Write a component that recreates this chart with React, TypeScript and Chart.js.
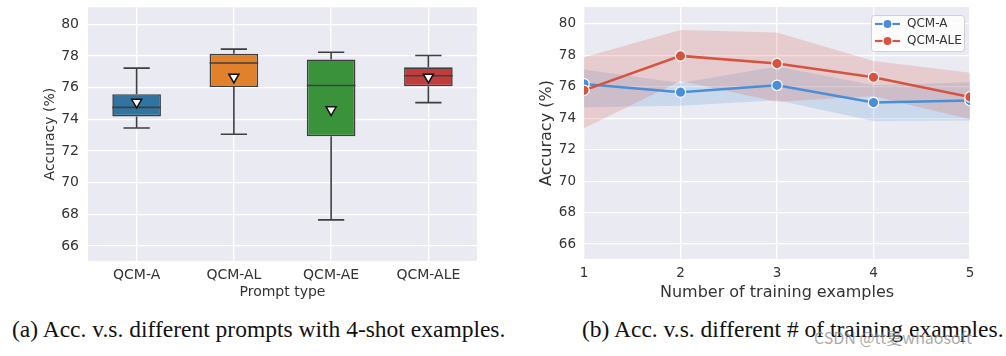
import React, { useEffect, useRef } from 'react';
import { Chart, registerables } from 'chart.js';
Chart.register(...registerables);

// ---- Left chart: box plots by prompt type ----
const promptTypes = ['QCM-A', 'QCM-AL', 'QCM-AE', 'QCM-ALE'];
const whiskerLow = [73.45, 73.05, 67.65, 75.05];
const q1 = [74.18, 76.03, 72.92, 76.08];
const median = [74.75, 77.55, 76.13, 76.75];
const q3 = [75.58, 78.13, 77.78, 77.28];
const whiskerHigh = [77.23, 78.43, 78.23, 78.03];
const means = [75.08, 76.66, 74.6, 76.66];
const boxColors = ['#3274a1', '#e1812c', '#3a923a', '#c03d3e'];

const yTicks = [66, 68, 70, 72, 74, 76, 78, 80];

// ---- Right chart: accuracy vs number of training examples ----
const trainingExamples = [1, 2, 3, 4, 5];
const qcmA = [76.19, 75.66, 76.1, 75.0, 75.13];
const qcmAUpper = [77.1, 76.25, 77.3, 76.1, 76.3];
const qcmALower = [74.7, 74.8, 75.15, 73.83, 73.86];
const qcmALE = [75.78, 77.97, 77.48, 76.61, 75.36];
const qcmALEUpper = [77.88, 79.62, 79.45, 77.65, 76.9];
const qcmALELower = [73.37, 76.38, 75.06, 75.4, 73.94];

const blue = '#4a8fd6';
const red = '#d5533f';
const blueBand = 'rgba(74,143,214,0.2)';
const redBand = 'rgba(213,83,63,0.2)';

const FONT = 'DejaVu Sans';
const TEXT = '#333333';

const noPad = (s: any) => {
  s.paddingTop = 0;
  s.paddingBottom = 0;
  s.paddingLeft = 0;
  s.paddingRight = 0;
};

const bgPlugin = {
  id: 'bg',
  beforeDraw(chart: any) {
    const { ctx, chartArea: a } = chart;
    ctx.save();
    ctx.fillStyle = '#eaeaf2';
    ctx.fillRect(a.left, a.top, a.right - a.left, a.bottom - a.top);
    ctx.restore();
  },
};

const boxPlugin = {
  id: 'boxparts',
  afterDatasetDraw(chart: any, args: any) {
    if (args.index !== 0) return;
    const { ctx } = chart;
    const xs = chart.scales.x;
    const ys = chart.scales.y;
    const meta = chart.getDatasetMeta(0);
    ctx.save();
    ctx.strokeStyle = '#3f3f3f';
    ctx.lineWidth = 1.6;
    promptTypes.forEach((_, i) => {
      const x = xs.getPixelForValue(i);
      const w = meta.data[i].width;
      const cap = w * 0.27;
      const yHi = ys.getPixelForValue(whiskerHigh[i]);
      const yLo = ys.getPixelForValue(whiskerLow[i]);
      const yQ1 = ys.getPixelForValue(q1[i]);
      const yQ3 = ys.getPixelForValue(q3[i]);
      const yMed = ys.getPixelForValue(median[i]);
      ctx.beginPath();
      ctx.moveTo(x, yQ3);
      ctx.lineTo(x, yHi);
      ctx.moveTo(x - cap, yHi);
      ctx.lineTo(x + cap, yHi);
      ctx.moveTo(x, yQ1);
      ctx.lineTo(x, yLo);
      ctx.moveTo(x - cap, yLo);
      ctx.lineTo(x + cap, yLo);
      ctx.moveTo(x - w / 2, yMed);
      ctx.lineTo(x + w / 2, yMed);
      ctx.stroke();
    });
    ctx.restore();
  },
};

const legendPlugin = {
  id: 'customLegend',
  afterDraw(chart: any) {
    const { ctx, chartArea: a } = chart;
    const x0 = a.right - 99;
    const y0 = a.top + 8;
    const w = 93;
    const h = 36;
    ctx.save();
    ctx.fillStyle = 'rgba(255,255,255,0.85)';
    ctx.strokeStyle = '#d0d0d0';
    ctx.lineWidth = 1;
    ctx.beginPath();
    (ctx as any).roundRect(x0 + 0.5, y0 + 0.5, w, h, 3);
    ctx.fill();
    ctx.stroke();
    const items = [
      { label: 'QCM-A', color: blue },
      { label: 'QCM-ALE', color: red },
    ];
    items.forEach((it, k) => {
      const cy = y0 + 9 + k * 17;
      ctx.strokeStyle = it.color;
      ctx.lineWidth = 2.2;
      ctx.beginPath();
      ctx.moveTo(x0 + 4, cy);
      ctx.lineTo(x0 + 29, cy);
      ctx.stroke();
      ctx.fillStyle = it.color;
      ctx.strokeStyle = '#fff';
      ctx.lineWidth = 1.2;
      ctx.beginPath();
      ctx.arc(x0 + 16.5, cy, 4.5, 0, Math.PI * 2);
      ctx.fill();
      ctx.stroke();
      ctx.fillStyle = TEXT;
      ctx.font = `12px "${FONT}"`;
      ctx.textBaseline = 'middle';
      ctx.fillText(it.label, x0 + 36, cy);
    });
    ctx.restore();
  },
};

function LeftChart() {
  const ref = useRef<HTMLCanvasElement>(null);
  useEffect(() => {
    const chart = new Chart(ref.current!, {
      type: 'bar',
      data: {
        labels: promptTypes,
        datasets: [
          {
            type: 'bar',
            data: promptTypes.map((_, i) => [q1[i], q3[i]]) as any,
            backgroundColor: boxColors,
            borderColor: '#3f3f3f',
            borderWidth: 1.6,
            borderSkipped: false,
            barPercentage: 0.5,
            categoryPercentage: 1,
            order: 2,
          },
          {
            type: 'line',
            data: means,
            showLine: false,
            pointStyle: 'triangle',
            rotation: 180,
            pointRadius: 5.8,
            pointBackgroundColor: '#ffffff',
            pointBorderColor: '#111111',
            pointBorderWidth: 1.5,
            order: 1,
          } as any,
        ],
      },
      options: {
        responsive: false,
        animation: false,
        layout: { padding: { left: 42, top: 7, right: 23, bottom: 0 } },
        plugins: { legend: { display: false }, tooltip: { enabled: false } },
        scales: {
          x: {
            offset: true,
            grid: { color: '#ffffff', lineWidth: 1.3, offset: false, drawTicks: false },
            border: { display: false },
            ticks: { font: { family: FONT, size: 14 }, color: TEXT, padding: 6 },
            title: { display: true, text: 'Prompt type', font: { family: FONT, size: 14 }, color: TEXT, padding: { top: 0, bottom: 3 } },
            afterFit: (s: any) => { s.height = 43; noPad(s); },
          },
          y: {
            min: 65.05,
            max: 81.07,
            afterBuildTicks: (s: any) => { s.ticks = yTicks.map((v) => ({ value: v })); },
            grid: { color: '#ffffff', lineWidth: 1.3, drawTicks: false },
            border: { display: false },
            ticks: { font: { family: FONT, size: 14 }, color: TEXT, padding: 9 },
            title: { display: true, text: 'Accuracy (%)', font: { family: FONT, size: 14 }, color: TEXT, padding: 0 },
            afterFit: (s: any) => { s.width = 46; noPad(s); },
          },
        },
      },
      plugins: [bgPlugin, boxPlugin],
    });
    return () => chart.destroy();
  }, []);
  return <canvas ref={ref} width={500} height={304} style={{ position: 'absolute', left: 0, top: 0 }} />;
}

function RightChart() {
  const ref = useRef<HTMLCanvasElement>(null);
  useEffect(() => {
    const pts = (arr: number[]) => trainingExamples.map((x, i) => ({ x, y: arr[i] }));
    const band = { borderWidth: 0, pointRadius: 0, tension: 0, clip: 0 };
    const chart = new Chart(ref.current!, {
      type: 'line',
      data: {
        datasets: [
          { ...band, data: pts(qcmAUpper), fill: false, order: 4 },
          { ...band, data: pts(qcmALower), fill: '-1', backgroundColor: blueBand, order: 4 },
          {
            data: pts(qcmA), borderColor: blue, borderWidth: 2.5, pointRadius: 5.2,
            pointBackgroundColor: blue, pointBorderColor: '#ffffff', pointBorderWidth: 1.2, clip: 0, order: 2,
          },
          { ...band, data: pts(qcmALEUpper), fill: false, order: 3 },
          { ...band, data: pts(qcmALELower), fill: '-1', backgroundColor: redBand, order: 3 },
          {
            data: pts(qcmALE), borderColor: red, borderWidth: 2.5, pointRadius: 5.2,
            pointBackgroundColor: red, pointBorderColor: '#ffffff', pointBorderWidth: 1.2, clip: 0, order: 1,
          },
        ] as any,
      },
      options: {
        responsive: false,
        animation: false,
        layout: { padding: { left: 37, top: 7, right: 36, bottom: 0 } },
        plugins: { legend: { display: false }, tooltip: { enabled: false } },
        scales: {
          x: {
            type: 'linear',
            min: 1,
            max: 5,
            afterBuildTicks: (s: any) => { s.ticks = trainingExamples.map((v) => ({ value: v })); },
            grid: { color: '#ffffff', lineWidth: 1.3, drawTicks: false },
            border: { display: false },
            ticks: { font: { family: FONT, size: 13.5 }, color: TEXT, padding: 6 },
            title: { display: true, text: 'Number of training examples', font: { family: FONT, size: 16 }, color: TEXT, padding: { top: 0, bottom: 2 } },
            afterFit: (s: any) => { s.height = 45; noPad(s); },
          },
          y: {
            min: 65.05,
            max: 81.08,
            afterBuildTicks: (s: any) => { s.ticks = yTicks.map((v) => ({ value: v })); },
            grid: { color: '#ffffff', lineWidth: 1.3, drawTicks: false },
            border: { display: false },
            ticks: { font: { family: FONT, size: 13.5 }, color: TEXT, padding: 8 },
            title: { display: true, text: 'Accuracy (%)', font: { family: FONT, size: 16 }, color: TEXT, padding: 0 },
            afterFit: (s: any) => { s.width = 47; noPad(s); },
          },
        },
      },
      plugins: [bgPlugin, legendPlugin],
    });
    return () => chart.destroy();
  }, []);
  return <canvas ref={ref} width={506} height={304} style={{ position: 'absolute', left: 500, top: 0 }} />;
}

export default function App() {
  const caption: React.CSSProperties = {
    position: 'absolute',
    top: 315,
    fontFamily: '"Liberation Serif", "Times New Roman", serif',
    fontSize: 23.5,
    lineHeight: '28px',
    color: '#111',
    whiteSpace: 'nowrap',
  };
  return (
    <div style={{ position: 'fixed', left: 0, top: 0, width: 1006, height: 356, background: '#fff', overflow: 'hidden' }}>
      <LeftChart />
      <RightChart />
      <div style={{ ...caption, left: 12 }}>(a) Acc. v.s. different prompts with 4-shot examples.</div>
      <div style={{ ...caption, left: 582 }}>(b) Acc. v.s. different # of training examples.</div>
      <div
        style={{
          position: 'absolute', left: 814, top: 327, fontFamily: '"Noto Sans CJK SC", "Noto Sans", sans-serif',
          fontSize: 16, lineHeight: '20px', color: 'rgba(140,140,140,0.75)', whiteSpace: 'nowrap',
        }}
      >
        CSDN @tt夏whaosoft
      </div>
    </div>
  );
}
